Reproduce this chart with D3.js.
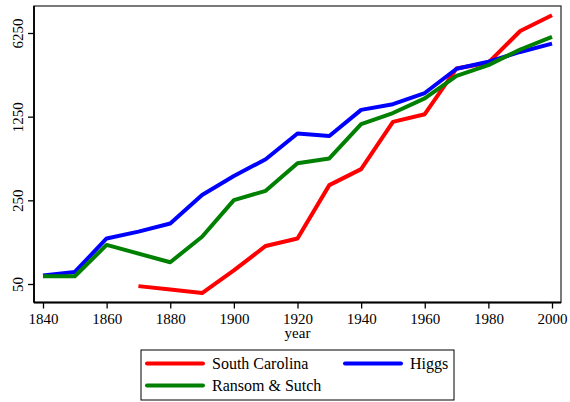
<!DOCTYPE html>
<html>
<head>
<meta charset="utf-8">
<script src="https://cdn.jsdelivr.net/npm/d3@7"></script>
<style>
  html, body { margin: 0; padding: 0; background: #fff; }
  svg { display: block; font-family: "Liberation Serif", serif; }
</style>
</head>
<body>
<div id="chart"></div>
<script>
// Log-scale comparison of three series over 1840–2000.

const yearTicks = [1840, 1860, 1880, 1900, 1920, 1940, 1960, 1980, 2000];
const valueTicks = [50, 250, 1250, 6250];

const scYears = [1870, 1880, 1890, 1900, 1910, 1920, 1930, 1940, 1950, 1960, 1970, 1980, 1990, 2000];
const scValues = [48, 45, 42, 65, 104, 120, 335, 456, 1130, 1310, 3160, 3530, 6500, 8800];

const higgsYears = [1840, 1850, 1860, 1870, 1880, 1890, 1900, 1910, 1920, 1930, 1940, 1950, 1960, 1970, 1980, 1990, 2000];
const higgsValues = [59, 63, 120, 137, 160, 277, 399, 551, 905, 862, 1425, 1590, 1970, 3140, 3600, 4340, 5090];

const rsYears = [1840, 1850, 1860, 1880, 1890, 1900, 1910, 1920, 1930, 1940, 1950, 1960, 1970, 1980, 1990, 2000];
const rsValues = [58, 58, 106, 76, 124, 251, 300, 510, 560, 1084, 1340, 1775, 2735, 3370, 4550, 5800];

const series = [
  { name: 'South Carolina', color: '#ff0000', years: scYears, values: scValues },
  { name: 'Higgs', color: '#0000ff', years: higgsYears, values: higgsValues },
  { name: 'Ransom & Sutch', color: '#008000', years: rsYears, values: rsValues }
];

const W = 570, H = 402;
const frame = { left: 34, right: 561, top: 6, bottom: 302.5 };
const FONT = '"Liberation Serif", serif';

const x = d3.scaleLinear().domain([1840, 2000]).range([43, 552]);
const y = d3.scaleLog().domain([50, 6250]).range([284, 33]);

const svg = d3.select('#chart').append('svg').attr('width', W).attr('height', H);

// plot frame
svg.append('rect')
  .attr('x', frame.left).attr('y', frame.top)
  .attr('width', frame.right - frame.left).attr('height', frame.bottom - frame.top)
  .attr('fill', 'none').attr('stroke', '#333').attr('stroke-width', 1.3);

// lines
const line = d3.line().x(d => x(d[0])).y(d => y(d[1]));
series.forEach(s => {
  svg.append('path')
    .datum(s.years.map((yr, i) => [yr, s.values[i]]))
    .attr('d', line)
    .attr('fill', 'none')
    .attr('stroke', s.color)
    .attr('stroke-width', 4)
    .attr('stroke-linejoin', 'round');
});

// x axis
const xAxis = svg.append('g').attr('transform', `translate(0,${frame.bottom})`)
  .call(d3.axisBottom(x).tickValues(yearTicks).tickFormat(d3.format('d')).tickSize(6).tickPadding(5))
  .attr('font-family', FONT).attr('font-size', 15);
xAxis.select('.domain').attr('d', `M${frame.left},0H${frame.right}`).attr('stroke', '#000').attr('stroke-width', 1.8);
xAxis.selectAll('.tick line').attr('stroke', '#000').attr('stroke-width', 1.3);
xAxis.selectAll('.tick text').attr('fill', '#000');

svg.append('text')
  .attr('x', x(1920)).attr('y', 338)
  .attr('text-anchor', 'middle').attr('font-size', 15)
  .text('year');

// y axis
const yAxis = svg.append('g').attr('transform', `translate(${frame.left},0)`)
  .call(d3.axisLeft(y).tickValues(valueTicks).tickFormat(d3.format('d')).tickSize(6).tickPadding(0))
  .attr('font-family', FONT).attr('font-size', 15);
yAxis.select('.domain').attr('d', `M0,${frame.top}V${frame.bottom}`).attr('stroke', '#000').attr('stroke-width', 1.8);
yAxis.selectAll('.tick line').attr('stroke', '#000').attr('stroke-width', 1.3);
yAxis.selectAll('.tick text')
  .attr('fill', '#000')
  .attr('x', 0).attr('dy', 0)
  .attr('text-anchor', 'middle')
  .attr('transform', 'translate(-11,0) rotate(-90)');

// legend
const legend = svg.append('g');
legend.append('rect')
  .attr('x', 141).attr('y', 350).attr('width', 313).attr('height', 50)
  .attr('fill', '#fff').attr('stroke', '#000').attr('stroke-width', 1);

const legendPos = [
  { col: 0, row: 0 }, { col: 1, row: 0 }, { col: 0, row: 1 }
];
series.forEach((s, i) => {
  const p = legendPos[i];
  const lx = 147 + p.col * 198, ly = 363.5 + p.row * 22;
  legend.append('line')
    .attr('x1', lx).attr('x2', lx + 56).attr('y1', ly).attr('y2', ly)
    .attr('stroke', s.color).attr('stroke-width', 4).attr('stroke-linecap', 'round');
  legend.append('text')
    .attr('x', lx + 65).attr('y', ly + 5)
    .attr('font-size', 16)
    .text(s.name);
});
</script>
</body>
</html>
